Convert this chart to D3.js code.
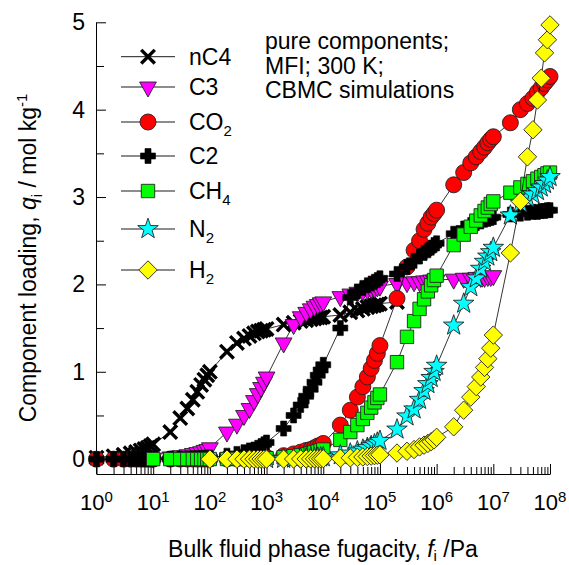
<!DOCTYPE html>
<html>
<head>
<meta charset="utf-8">
<script src="https://cdn.jsdelivr.net/npm/d3@7"></script>
<style>
  html, body { margin: 0; padding: 0; background: #fff; }
  svg { display: block; font-family: "Liberation Sans", Arial, Helvetica, sans-serif; }
</style>
</head>
<body>
<svg id="chart" width="569" height="565"></svg>
<script>
// ---- Pure-component isotherms in MFI at 300 K (CBMC), fugacity f in Pa, loading q in mol/kg ----
const nC4_f = [1,2,3,4,5,6,7,8,9, 10,20,30,40,50,60,70,80,90, 100,200,300,400,500,600,700,800,900,
  1e3,2e3,3e3,4e3,5e3,6e3,7e3,8e3,9e3, 1e4,2e4,3e4,4e4,5e4,6e4,7e4,8e4,9e4, 1e5,2e5];
const nC4_q = [0.017,0.034,0.05,0.067,0.083,0.1,0.115,0.13,0.15, 0.17,0.31,0.47,0.58,0.68,0.77,0.85,0.91,0.96,
  1.0,1.23,1.33,1.38,1.41,1.44,1.46,1.47,1.48, 1.49,1.54,1.56,1.58,1.59,1.6,1.61,1.62,1.62,
  1.63,1.65,1.68,1.7,1.72,1.74,1.75,1.76,1.77, 1.78,1.8];

const C3_f = [10,20,30,40,50,60,70,80,90, 100,200,300,400,500,600,700,800,900,
  1e3,2e3,3e3,4e3,5e3,6e3,7e3,8e3,9e3, 1e4,2e4,3e4,4e4,5e4,6e4,7e4,8e4,9e4,
  1e5,2e5,3e5,4e5,5e5,6e5,7e5,8e5,9e5, 1e6,2e6,3e6,4e6,5e6,6e6,7e6,8e6,9e6, 1e7];
const C3_q = [0.01,0.025,0.04,0.05,0.065,0.075,0.085,0.1,0.11, 0.13,0.31,0.4,0.5,0.58,0.67,0.75,0.82,0.88,
  0.94,1.33,1.54,1.63,1.68,1.72,1.75,1.77,1.79, 1.8,1.86,1.89,1.91,1.93,1.94,1.95,1.96,1.97,
  1.98,2.01,2.02,2.03,2.03,2.04,2.04,2.05,2.05, 2.05,2.06,2.07,2.07,2.08,2.08,2.08,2.09,2.09, 2.1];

const CO2_f = [1,2,3,4,5,6,7,8,9, 10,20,30,40,50,60,70,80,90, 100,200,300,400,500,600,700,800,900,
  1e3,2e3,3e3,4e3,5e3,6e3,7e3,8e3,9e3, 1e4,2e4,3e4,4e4,5e4,6e4,7e4,8e4,9e4,
  1e5,2e5,3e5,4e5,5e5,6e5,7e5,8e5,9e5, 1e6,2e6,3e6,4e6,5e6,6e6,7e6,8e6,9e6,
  1e7,2e7,3e7,4e7,5e7,6e7,7e7,8e7,9e7, 1e8];
const CO2_q = [0,0,0,0,0,0,0,0,0, 0.0002,0.0004,0.0006,0.0008,0.001,0.0012,0.0014,0.0016,0.0018,
  0.002,0.004,0.006,0.008,0.01,0.012,0.014,0.016,0.018, 0.02,0.04,0.06,0.08,0.1,0.11,0.13,0.15,0.16,
  0.18,0.39,0.56,0.71,0.83,0.94,1.04,1.13,1.21, 1.3,1.84,2.2,2.39,2.5,2.63,2.7,2.77,2.81,
  2.85,3.14,3.28,3.39,3.46,3.52,3.57,3.62,3.66, 3.69,3.85,4.0,4.07,4.13,4.2,4.25,4.3,4.34, 4.38];

const C2_f = [1,2,3,4,5,6,7,8,9, 10,20,30,40,50,60,70,80,90, 100,200,300,400,500,600,700,800,900,
  1e3,2e3,3e3,4e3,5e3,6e3,7e3,8e3,9e3, 1e4,2e4,3e4,4e4,5e4,6e4,7e4,8e4,9e4,
  1e5,2e5,3e5,4e5,5e5,6e5,7e5,8e5,9e5, 1e6,2e6,3e6,4e6,5e6,6e6,7e6,8e6,9e6,
  1e7,2e7,3e7,4e7,5e7,6e7,7e7,8e7,9e7, 1e8];
const C2_q = [0.0002,0.0004,0.0006,0.0008,0.001,0.0012,0.0014,0.0016,0.0018,
  0.002,0.004,0.006,0.008,0.01,0.012,0.013,0.015,0.017, 0.02,0.04,0.06,0.08,0.1,0.11,0.13,0.15,0.17,
  0.19,0.35,0.5,0.62,0.72,0.8,0.88,0.96,1.02, 1.08,1.5,1.85,1.92,1.96,1.99,2.01,2.03,2.05,
  2.07,2.12,2.2,2.27,2.32,2.36,2.39,2.42,2.45, 2.47,2.58,2.64,2.68,2.7,2.72,2.74,2.75,2.76,
  2.77,2.8,2.81,2.82,2.83,2.83,2.84,2.84,2.85, 2.85];

const CH4_f = [10,20,30,40,50,60,70,80,90, 100,200,300,400,500,600,700,800,900,
  1e3,2e3,3e3,4e3,5e3,6e3,7e3,8e3,9e3, 1e4,2e4,3e4,4e4,5e4,6e4,7e4,8e4,9e4,
  1e5,2e5,3e5,4e5,5e5,6e5,7e5,8e5,9e5, 1e6,2e6,3e6,4e6,5e6,6e6,7e6,8e6,9e6,
  1e7,2e7,3e7,4e7,5e7,6e7,7e7,8e7,9e7, 1e8];
const CH4_q = [0.0001,0.0002,0.0003,0.0004,0.0005,0.0006,0.0008,0.0009,0.001,
  0.001,0.002,0.003,0.004,0.006,0.007,0.008,0.009,0.01, 0.011,0.022,0.033,0.044,0.055,0.066,0.077,0.088,0.099,
  0.11,0.22,0.31,0.39,0.46,0.53,0.59,0.65,0.7, 0.74,1.11,1.4,1.58,1.72,1.83,1.92,1.99,2.05,
  2.1,2.45,2.57,2.66,2.73,2.79,2.84,2.88,2.92, 2.95,3.05,3.11,3.15,3.18,3.21,3.23,3.25,3.27, 3.28];

const N2_f = [1e3,2e3,3e3,4e3,5e3,6e3,7e3,8e3,9e3, 1e4,2e4,3e4,4e4,5e4,6e4,7e4,8e4,9e4,
  1e5,2e5,3e5,4e5,5e5,6e5,7e5,8e5,9e5, 1e6,2e6,3e6,4e6,5e6,6e6,7e6,8e6,9e6,
  1e7,2e7,3e7,4e7,5e7,6e7,7e7,8e7,9e7, 1e8];
const N2_q = [0.002,0.004,0.007,0.009,0.011,0.013,0.015,0.017,0.02,
  0.022,0.045,0.065,0.09,0.11,0.13,0.15,0.17,0.19, 0.21,0.34,0.49,0.57,0.68,0.78,0.86,0.93,1.0,
  1.07,1.53,1.78,1.97,2.07,2.18,2.26,2.32,2.37, 2.42,2.79,2.93,2.99,3.03,3.07,3.11,3.15,3.19, 3.23];

const H2_f = [100,200,300,400,500,600,700,800,900,
  1e3,2e3,3e3,4e3,5e3,6e3,7e3,8e3,9e3, 1e4,2e4,3e4,4e4,5e4,6e4,7e4,8e4,9e4,
  1e5,2e5,3e5,4e5,5e5,6e5,7e5,8e5,9e5, 1e6,2e6,3e6,4e6,5e6,6e6,7e6,8e6,9e6,
  1e7,2e7,3e7,4e7,5e7,6e7,7e7,8e7,9e7, 1e8];
const H2_q = [0,0,0,0,0,0,0,0,0,
  0.0005,0.001,0.0015,0.002,0.0025,0.003,0.0035,0.004,0.0045,
  0.005,0.01,0.015,0.02,0.025,0.03,0.035,0.04,0.045,
  0.05,0.07,0.09,0.11,0.14,0.16,0.18,0.2,0.22,
  0.25,0.37,0.56,0.71,0.83,0.94,1.05,1.15,1.27,
  1.42,2.36,2.95,3.46,3.77,4.11,4.36,4.65,4.8, 4.97];

// Axis tick labels
const xTickExponents = ["0","1","2","3","4","5","6","7","8"];
const yTickLabels = ["0","1","2","3","4","5"];

// Legend entries: [base text, subscript]
const legendLabels = [["nC4",""],["C3",""],["CO","2"],["C2",""],["CH","4"],["N","2"],["H","2"]];
const annotationLines = ["pure components;", "MFI; 300 K;", "CBMC simulations"];

// ---- marker shapes ----
function starPath(ro, ri) {
  let d = "";
  for (let i = 0; i < 10; i++) {
    const r = i % 2 === 0 ? ro : ri;
    const a = -Math.PI / 2 + i * Math.PI / 5;
    d += (i === 0 ? "M" : "L") + (r * Math.cos(a)).toFixed(2) + "," + (r * Math.sin(a)).toFixed(2);
  }
  return d + "Z";
}
const shapes = {
  cross: { d: "M-6.8,-6.8L6.8,6.8M-6.8,6.8L6.8,-6.8", fill: "none", stroke: "#000", sw: 3.4 },
  triDown: { d: "M-8.4,-5L8.4,-5L0,10Z", fill: "#ff00ff", stroke: "#222", sw: 0.9 },
  circle: { d: d3.symbol(d3.symbolCircle, Math.PI * 8 * 8)(), fill: "#ff0000", stroke: "#222", sw: 0.9 },
  plus: { d: "M-3,-7.5H3V-3H7.5V3H3V7.5H-3V3H-7.5V-3H-3Z", fill: "#000", stroke: "#000", sw: 0.6 },
  square: { d: "M-6.7,-6.7H6.7V6.7H-6.7Z", fill: "#00ff00", stroke: "#222", sw: 0.9 },
  star: { d: starPath(10.8, 4.3), fill: "#00ffff", stroke: "#222", sw: 0.9 },
  diamond: { d: "M0,-9.2L9.2,0L0,9.2L-9.2,0Z", fill: "#ffff00", stroke: "#222", sw: 0.9 }
};

const series = [
  { f: nC4_f, q: nC4_q, shape: "cross" },
  { f: C3_f, q: C3_q, shape: "triDown" },
  { f: CO2_f, q: CO2_q, shape: "circle" },
  { f: C2_f, q: C2_q, shape: "plus" },
  { f: CH4_f, q: CH4_q, shape: "square" },
  { f: N2_f, q: N2_q, shape: "star" },
  { f: H2_f, q: H2_q, shape: "diamond" }
];

// ---- scales ----
const svg = d3.select("#chart");
const x = d3.scaleLog().domain([1, 1e8]).range([96.5, 550]);
const y = d3.scaleLinear().domain([-0.17, 5]).range([474, 22.3]);
const FONT = 23;

// ---- axes ----
const xTicks = [];
for (let k = 0; k < 8; k++) for (let m = 1; m <= 9; m++) xTicks.push(m * Math.pow(10, k));
xTicks.push(1e8);
const isMajor = d => Math.abs(Math.log10(d) - Math.round(Math.log10(d))) < 1e-9;

const gx = svg.append("g").attr("transform", "translate(0,474)")
  .call(d3.axisBottom(x).tickValues(xTicks).tickSizeInner(-7).tickSizeOuter(0).tickFormat(""));
gx.selectAll(".tick line").filter(isMajor).attr("y2", -10);
gx.selectAll("path, line").attr("stroke", "#000").attr("stroke-width", 1);

const xl = svg.append("g").attr("font-size", 22).attr("fill", "#000");
xTickExponents.forEach(e => {
  const t = xl.append("text").attr("x", x(Math.pow(10, +e))).attr("y", 510).attr("text-anchor", "middle");
  t.append("tspan").text("10");
  t.append("tspan").attr("font-size", 15).attr("dy", -8).text(e);
});

const yTicks = d3.range(0, 5.01, 0.5);
const gy = svg.append("g").attr("transform", "translate(96,0)")
  .call(d3.axisLeft(y).tickValues(yTicks).tickSizeInner(-8).tickSizeOuter(0).tickPadding(11)
    .tickFormat(d => Number.isInteger(d) ? yTickLabels[d] : ""));
gy.selectAll(".tick line").filter(d => Number.isInteger(d)).attr("x2", 10);
gy.selectAll("path, line").attr("stroke", "#000").attr("stroke-width", 1);
gy.selectAll("text").attr("font-size", FONT).attr("font-family", null).attr("fill", "#000");

// ---- axis titles ----
const yt = svg.append("text").attr("transform", "translate(36,258) rotate(-90)")
  .attr("text-anchor", "middle").attr("font-size", FONT).attr("fill", "#000");
yt.append("tspan").text("Component loading, ");
yt.append("tspan").attr("font-style", "italic").text("q");
yt.append("tspan").attr("font-size", 15).attr("dy", 6).text("i");
yt.append("tspan").attr("dy", -6).text(" / mol kg");
yt.append("tspan").attr("font-size", 15).attr("dy", -9).text("-1");

const xt = svg.append("text").attr("x", 323).attr("y", 557)
  .attr("text-anchor", "middle").attr("font-size", FONT).attr("fill", "#000");
xt.append("tspan").text("Bulk fluid phase fugacity, ");
xt.append("tspan").attr("font-style", "italic").text("f");
xt.append("tspan").attr("font-size", 15).attr("dy", 4).text("i");
xt.append("tspan").attr("dy", -4).text(" /Pa");

// ---- series: connecting line then markers ----
const line = d3.line().x(d => x(d[0])).y(d => y(d[1]));
const plot = svg.append("g");
series.forEach(s => {
  const pts = s.f.map((f, i) => [f, s.q[i]]);
  const g = plot.append("g");
  g.append("path").datum(pts).attr("d", line)
    .attr("fill", "none").attr("stroke", "#000").attr("stroke-width", 0.8);
  const sh = shapes[s.shape];
  g.selectAll("path.m").data(pts).join("path").attr("class", "m")
    .attr("transform", d => `translate(${x(d[0])},${y(d[1])})`)
    .attr("d", sh.d).attr("fill", sh.fill).attr("stroke", sh.stroke)
    .attr("stroke-width", sh.sw).attr("stroke-linejoin", "miter");
});

// ---- legend ----
const legendRowY = [56.7, 87, 122, 156, 191, 229, 270];
const lg = svg.append("g");
series.forEach((s, i) => {
  const ry = legendRowY[i];
  lg.append("line").attr("x1", 121).attr("x2", 175).attr("y1", ry).attr("y2", ry)
    .attr("stroke", "#000").attr("stroke-width", 0.9);
  const sh = shapes[s.shape];
  lg.append("path").attr("transform", `translate(148,${ry})`).attr("d", sh.d)
    .attr("fill", sh.fill).attr("stroke", sh.stroke).attr("stroke-width", sh.sw);
  const t = lg.append("text").attr("x", 189).attr("y", ry + 8).attr("font-size", FONT).attr("fill", "#000");
  t.append("tspan").text(legendLabels[i][0]);
  if (legendLabels[i][1]) t.append("tspan").attr("font-size", 15).attr("dy", 6).text(legendLabels[i][1]);
});

// ---- annotation ----
const an = svg.append("text").attr("font-size", FONT).attr("fill", "#000");
annotationLines.forEach((s, i) => {
  an.append("tspan").attr("x", 265).attr("y", 49 + i * 24.5).text(s);
});
</script>
</body>
</html>
